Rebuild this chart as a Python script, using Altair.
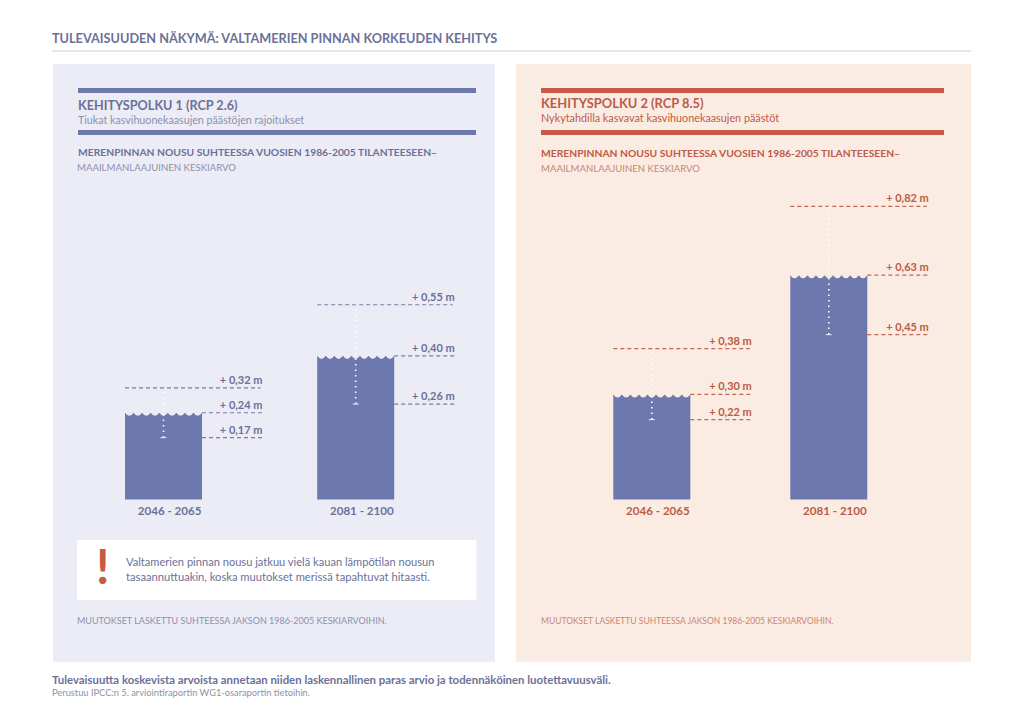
import altair as alt
import pandas as pd

periods = ["2046 - 2065", "2081 - 2100"]

# Labels printed in the picture
labels_26_low = ["+ 0,17 m", "+ 0,26 m"]
labels_26_mean = ["+ 0,24 m", "+ 0,40 m"]
labels_26_high = ["+ 0,32 m", "+ 0,55 m"]
labels_85_low = ["+ 0,22 m", "+ 0,45 m"]
labels_85_mean = ["+ 0,30 m", "+ 0,63 m"]
labels_85_high = ["+ 0,38 m", "+ 0,82 m"]

# Levels as drawn in the picture (metres on the bars' shared scale)
level_26_low = [0.172, 0.265]
level_26_mean = [0.241, 0.399]
level_26_high = [0.310, 0.541]
level_85_low = [0.222, 0.458]
level_85_mean = [0.292, 0.623]
level_85_high = [0.419, 0.814]

title = "TULEVAISUUDEN NÄKYMÄ: VALTAMERIEN PINNAN KORKEUDEN KEHITYS"
head_1 = "KEHITYSPOLKU 1 (RCP 2.6)"
sub_1 = "Tiukat kasvihuonekaasujen päästöjen rajoitukset"
head_2 = "KEHITYSPOLKU 2 (RCP 8.5)"
sub_2 = "Nykytahdilla kasvavat kasvihuonekaasujen päästöt"
measure = "MERENPINNAN NOUSU SUHTEESSA VUOSIEN 1986-2005 TILANTEESEEN–"
measure_sub = "MAAILMANLAAJUINEN KESKIARVO"
note = "MUUTOKSET LASKETTU SUHTEESSA JAKSON 1986-2005 KESKIARVOIHIN."
callout = ["Valtamerien pinnan nousu jatkuu vielä kauan lämpötilan nousun",
           "tasaannuttuakin, koska muutokset merissä tapahtuvat hitaasti."]
foot_1 = "Tulevaisuutta koskevista arvoista annetaan niiden laskennallinen paras arvio ja todennäköinen luotettavuusväli."
foot_2 = "Perustuu IPCC:n 5. arviointiraportin WG1-osaraportin tietoihin."

BLUE = "#6c78ae"
BLUE_TXT = "#6b7198"
BLUE_SOFT = "#8d91ac"
RED = "#c75b44"
RED_TXT = "#bd5b46"
RED_SOFT = "#cb8672"
BG_1 = "#ebecf6"
BG_2 = "#faece3"
FONT = "Lato"
W, H = 1008, 708
PX_PER_M = 360
BASE = 491.5

y_scale = alt.Scale(domain=[-(H - BASE) / PX_PER_M, BASE / PX_PER_M], range=[H, 0])
Y = lambda f: alt.Y(f, type="quantitative", scale=y_scale, axis=None)


def box(x0, x1, y0, y1, color):
    return alt.Chart().mark_rect(color=color).encode(
        x=alt.value(x0 - 8), x2=alt.value(x1 - 8),
        y=alt.value(y0 - 8), y2=alt.value(y1 - 8))


def txt(s, x, y, size, color, weight="normal", font=FONT):
    return alt.Chart().mark_text(align="left", baseline="middle", fontSize=size,
                                 color=color, fontWeight=weight, font=font).encode(
        x=alt.value(x - 8), y=alt.value(y - 8), text=alt.value(s))


def wave_path(n=9, depth=0.08):
    step = 2 / n
    p = "M-1 0"
    for i in range(n):
        p += f"Q{-1 + step * (i + .5):.4f} {2 * depth:.4f} {-1 + step * (i + 1):.4f} 0"
    return p + "L1 -0.03L-1 -0.03Z"


def panel(low, mean, high, l_low, l_mean, l_high, x_range, bg, txt_col, lab_off):
    df = pd.DataFrame({"period": periods, "low": low, "mean": mean, "high": high,
                       "l_low": l_low, "l_mean": l_mean, "l_high": l_high, "zero": 0.0})
    X = alt.X("period:N", axis=None,
              scale=alt.Scale(type="point", domain=periods, range=x_range, padding=0))
    X2 = alt.X2("period:N")
    base = alt.Chart(df)
    half = 38.5
    bars = base.mark_bar(width=77, color=BLUE).encode(x=X, y=Y("mean"), y2=alt.Y2("zero"))
    wave = base.mark_point(shape=wave_path(), size=77 ** 2, filled=True, fill=bg,
                           opacity=1, strokeWidth=0).encode(x=X, y=Y("mean"))
    dash = dict(color=txt_col, strokeDash=[4, 3], strokeWidth=1.2, opacity=0.9)
    r_high = base.mark_rule(xOffset=-half, x2Offset=lab_off - 2, **dash).encode(x=X, x2=X2, y=Y("high"))
    r_mean = base.mark_rule(xOffset=half, x2Offset=lab_off, **dash).encode(x=X, x2=X2, y=Y("mean"))
    r_low = base.mark_rule(xOffset=half, x2Offset=lab_off, **dash).encode(x=X, x2=X2, y=Y("low"))
    dots = base.mark_rule(color="white", strokeDash=[1.5, 4], strokeWidth=1.6).encode(
        x=X, y=Y("low"), y2=alt.Y2("high"))
    tick = base.mark_tick(color="white", orient="horizontal", size=6, thickness=1.2).encode(x=X, y=Y("low"))
    lab = dict(align="right", baseline="middle", dy=-7, xOffset=lab_off, fontSize=11,
               fontWeight="bold", color=txt_col, font=FONT)
    t_high = base.mark_text(**lab).encode(x=X, y=Y("high"), text="l_high")
    t_mean = base.mark_text(**lab).encode(x=X, y=Y("mean"), text="l_mean")
    t_low = base.mark_text(**lab).encode(x=X, y=Y("low"), text="l_low")
    t_cat = base.mark_text(align="right", baseline="middle", dy=12.5, xOffset=38, fontSize=11.6,
                           fontWeight="bold", color=txt_col, font=FONT).encode(
        x=X, y=Y("zero"), text="period")
    return alt.layer(bars, wave, r_high, r_mean, r_low, dots, tick, t_high, t_mean, t_low, t_cat)


decor = alt.layer(
    txt(title, 52, 39, 12.7, BLUE_TXT, "bold"),
    box(52, 971, 50.5, 51.5, "#cdd0da"),
    box(53, 495, 64, 662, BG_1),
    box(516, 971, 64, 662, BG_2),
    box(78, 476, 88, 93, BLUE),
    box(78, 476, 130, 135, BLUE),
    box(541, 944, 88, 93, RED),
    box(541, 944, 130, 135, RED),
    txt(head_1, 78, 105.5, 12.65, BLUE_TXT, "bold"),
    txt(sub_1, 78, 121, 10.7, BLUE_SOFT),
    txt(measure, 78, 153, 10.3, BLUE_TXT, "bold"),
    txt(measure_sub, 77, 168, 9.6, BLUE_SOFT),
    txt(head_2, 541, 103.5, 12.9, RED_TXT, "bold"),
    txt(sub_2, 541, 119, 10.8, RED_TXT),
    txt(measure, 541, 154, 10.3, RED_TXT, "bold"),
    txt(measure_sub, 541, 169, 9.6, RED_SOFT),
    box(77, 476.5, 540, 600, "white"),
    txt("!", 96, 570, 48, RED, "bold"),
    txt(callout[0], 126, 563, 11.1, BLUE_TXT),
    txt(callout[1], 126, 578, 11.2, BLUE_TXT),
    txt(note, 77, 621, 9.0, BLUE_SOFT),
    txt(note, 541, 621, 8.5, RED_SOFT),
    txt(foot_1, 52, 681, 11.4, BLUE_TXT, "bold"),
    txt(foot_2, 52, 693, 9.3, BLUE_SOFT),
)

p1 = panel(level_26_low, level_26_mean, level_26_high,
           labels_26_low, labels_26_mean, labels_26_high,
           [155.5, 347.7], BG_1, BLUE_TXT, 99)
p2 = panel(level_85_low, level_85_mean, level_85_high,
           labels_85_low, labels_85_mean, labels_85_high,
           [643.8, 820.8], BG_2, RED_TXT, 100)

chart = alt.layer(decor, p1, p2).resolve_scale(x="independent").properties(
    width=W, height=H, padding=0, background="white",
    autosize=alt.AutoSizeParams(type="none"),
).configure_view(stroke=None)

chart.save("out.html", embed_options={"renderer": "svg", "actions": False})
